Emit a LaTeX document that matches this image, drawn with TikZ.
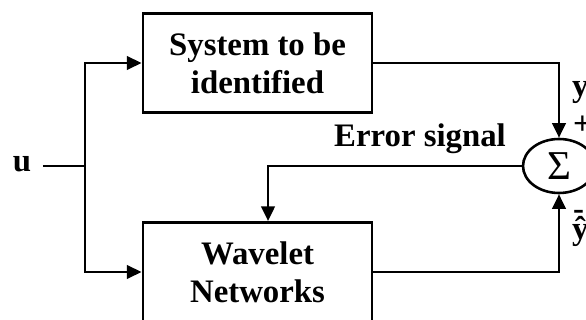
\documentclass[tikz,border=0pt]{standalone}
\usepackage{fontspec}
\setmainfont{Liberation Serif}
\usetikzlibrary{arrows.meta,shapes.geometric}

\begin{document}
\begin{tikzpicture}[x=0.03cm, y=-0.03cm,
  font=\fontsize{28}{32.4}\selectfont\bfseries,
  block/.style={draw, line width=2.5pt, minimum width=6.87cm, minimum height=2.97cm, align=center, inner sep=0pt},
  sumnode/.style={draw, ellipse, line width=2.2pt, minimum width=2.16cm, minimum height=1.62cm, inner sep=0pt},
  wire/.style={line width=2.2pt},
  sig/.style={wire, -{Triangle[length=12.5pt, width=11.5pt]}}]
\useasboundingbox (0,0) rectangle (586,320);
% blocks:
\node[block] (sys) at (257.5,63) {System to be\\identified};
\node[block] (wav) at (257.5,272) {Wavelet\\Networks};
\node[sumnode, font=\fontsize{35}{35}\selectfont\mdseries] (sum) at (559,166) {Σ};
% input side:
\node[inner sep=0pt, outer xsep=10pt] (u) at (22,164) {u};
\coordinate (split) at (85,166);
\draw[wire] (u.east |- split) -- (split);
\draw[sig] (split) |- (sys.west);
\draw[sig] (split) |- (wav.west);
% outputs into the sum:
\draw[sig] (sys.east) -| (sum.north);
\draw[sig] (wav.east) -| (sum.south);
\draw[sig] (sum.west) -| ([xshift=9pt]wav.north);
% labels:
\node[anchor=base] (err) at (420,147) {Error signal};
\node[anchor=base west, inner sep=0pt] (ylab) at (572,97) {y};
\node[anchor=west, inner sep=0pt] (plus) at (573,125) {+};
\node[anchor=base west, inner sep=0pt] (minus) at (573,220) {-};
\node[anchor=base west, inner sep=0pt] (yhat) at (572,240) {ŷ};
\end{tikzpicture}
\end{document}
